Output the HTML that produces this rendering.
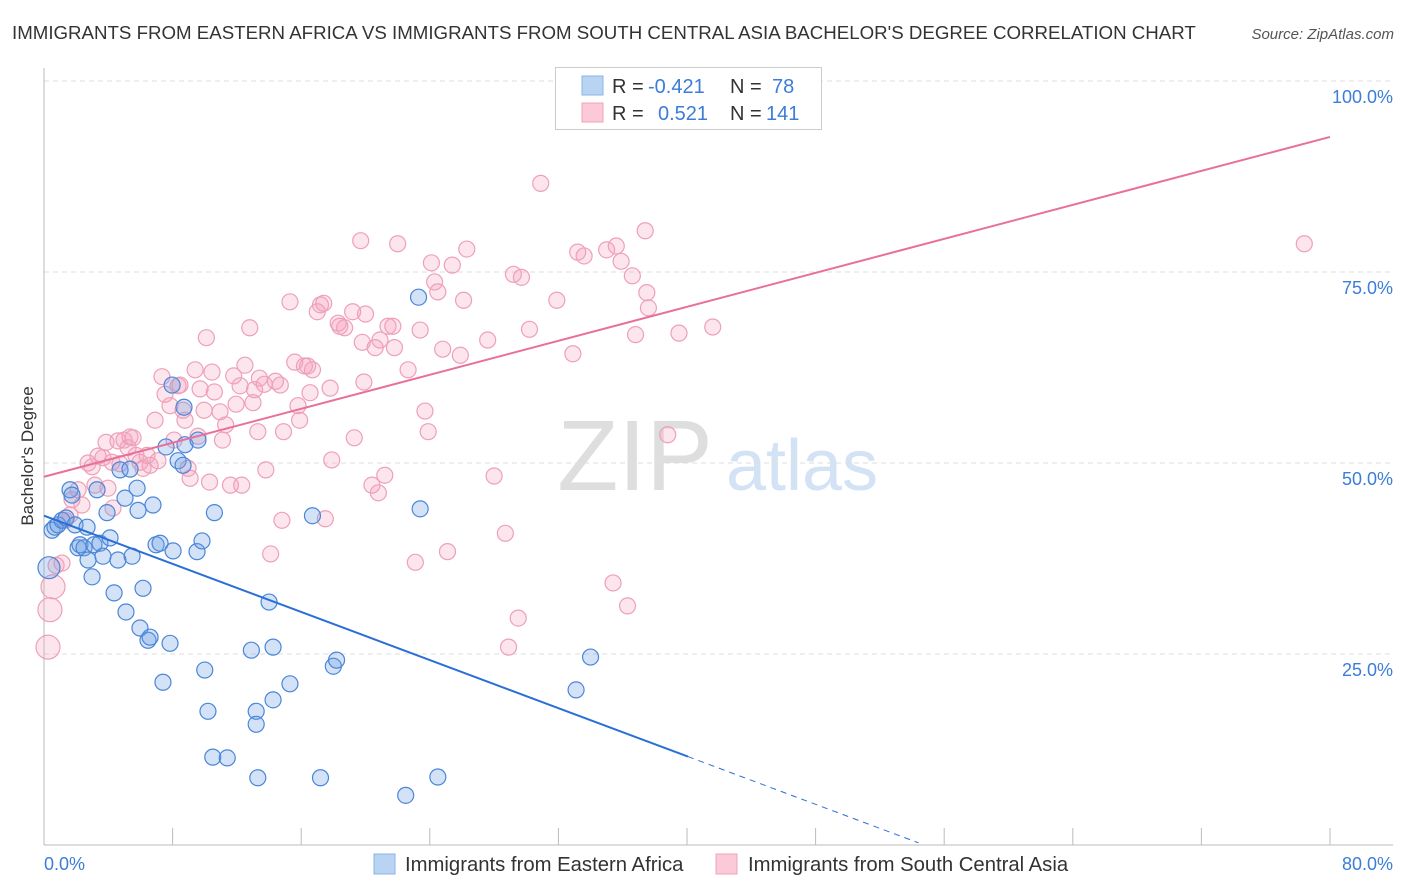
<!DOCTYPE html>
<html><head><meta charset="utf-8">
<style>
body{margin:0;background:#fff;font-family:"Liberation Sans",sans-serif;}
#wrap{position:relative;width:1406px;height:892px;overflow:hidden;}
svg text{font-family:"Liberation Sans",sans-serif;}
</style></head>
<body>
<div id="wrap">
<svg id="chart" width="1406" height="892">
  <text x="12" y="39" font-size="18.7" fill="#333">IMMIGRANTS FROM EASTERN AFRICA VS IMMIGRANTS FROM SOUTH CENTRAL ASIA BACHELOR'S DEGREE CORRELATION CHART</text>
  <text x="1394" y="39" font-size="15" fill="#555" font-style="italic" text-anchor="end">Source: ZipAtlas.com</text>
  <text x="33" y="456" font-size="17" fill="#333" text-anchor="middle" transform="rotate(-90 33 456)">Bachelor's Degree</text>
  <g>
    <text x="635" y="490" font-size="100" fill="#dedede" font-family="Liberation Serif" text-anchor="middle">ZIP</text>
    <text x="802" y="490" font-size="72" fill="#d3e2f4" text-anchor="middle">atlas</text>
  </g>
  <g id="grid"></g>
  <g id="axes"></g>
  <g id="pts"></g>
  <g id="lines"></g>
  <g>
    <rect x="555.5" y="67.5" width="266" height="62" fill="#fff" stroke="#ccc"/>
    <rect x="582" y="76" width="21" height="19" fill="#b9d3f3" stroke="#8ab3e6"/>
    <rect x="582" y="103" width="21" height="19" fill="#fbc9d8" stroke="#f0a3bb"/>
    <text x="612" y="93" font-size="20" fill="#333">R = </text>
    <text x="648" y="93" font-size="20" fill="#3b7dd8">-0.421</text>
    <text x="730" y="93" font-size="20" fill="#333">N = </text>
    <text x="772" y="93" font-size="20" fill="#3b7dd8">78</text>
    <text x="612" y="120" font-size="20" fill="#333">R = </text>
    <text x="658" y="120" font-size="20" fill="#3b7dd8">0.521</text>
    <text x="730" y="120" font-size="20" fill="#333">N = </text>
    <text x="766" y="120" font-size="20" fill="#3b7dd8">141</text>
  </g>
  <g>
    <rect x="374" y="854" width="21" height="20" fill="#b9d3f3" stroke="#8ab3e6"/>
    <text x="405" y="871" font-size="20.3" fill="#333">Immigrants from Eastern Africa</text>
    <rect x="716" y="854" width="21" height="20" fill="#fbc9d8" stroke="#f0a3bb"/>
    <text x="748" y="871" font-size="20.3" fill="#333">Immigrants from South Central Asia</text>
  </g>
</svg>
</div>
<script>
const blueX=[0.31,0.5,0.68,0.87,1.12,1.37,1.62,1.74,1.93,2.12,2.24,2.49,2.68,2.74,2.99,3.11,3.3,3.48,3.67,3.92,4.11,4.36,4.6,4.73,5.04,5.1,5.35,5.48,5.79,5.85,5.97,6.16,6.47,6.6,6.78,6.97,7.22,7.4,7.59,7.84,7.97,8.03,8.34,8.65,8.71,8.77,9.52,9.58,9.83,10.0,10.2,10.5,10.6,11.4,12.9,13.2,13.2,13.3,14.0,14.25,14.25,15.3,16.7,17.2,18.0,18.2,22.5,23.3,23.4,24.5,33.1,34.0];
const blueY=[36.3,41.2,41.6,41.9,42.5,42.8,46.5,45.8,41.9,38.9,39.3,38.9,41.6,37.3,35.1,39.3,46.5,39.5,37.8,43.5,40.2,33.0,37.3,49.1,45.4,30.5,49.2,37.8,46.7,43.8,28.4,33.6,26.8,27.2,44.5,39.3,39.5,21.3,52.1,26.4,60.2,38.5,50.3,49.7,57.3,52.4,38.4,53.0,39.8,22.9,17.5,11.5,43.5,11.4,25.5,17.5,15.8,8.8,31.8,19.0,25.9,21.1,43.1,8.8,23.4,24.2,6.5,71.7,44.0,8.9,20.3,24.6];
const pinkX=[0.25,0.37,0.56,0.75,1.12,1.31,1.62,1.74,2.12,2.36,2.74,2.99,3.17,3.36,3.67,3.86,3.98,4.23,4.29,4.6,4.73,4.98,5.23,5.35,5.54,5.72,5.97,6.16,6.41,6.6,6.91,7.09,7.34,7.53,7.84,8.09,8.34,8.46,8.65,8.77,8.96,9.09,9.4,9.58,9.71,9.96,10.1,10.3,10.45,10.6,10.95,11.1,11.3,11.6,11.8,11.95,12.2,12.3,12.5,12.8,13.0,13.1,13.3,13.4,13.7,13.8,14.1,14.4,14.7,14.8,14.9,15.3,15.6,15.8,15.9,16.2,16.4,16.55,16.7,17.0,17.2,17.4,17.5,17.8,17.9,18.3,18.4,18.7,19.2,19.3,19.7,19.8,19.9,20.0,20.4,20.6,20.8,20.9,21.2,21.4,21.7,21.8,22.0,22.65,23.1,23.4,23.7,23.9,24.1,24.3,24.5,24.8,25.1,25.4,25.9,26.1,26.3,27.6,28.0,28.7,28.9,29.2,29.5,29.7,30.2,30.9,31.9,32.9,33.2,33.6,35.0,35.4,35.6,35.9,36.3,36.6,36.8,37.4,37.5,37.6,38.8,39.5,41.6,78.4];
const pinkY=[25.9,30.8,33.8,36.6,36.9,42.5,43.2,45.2,46.5,44.5,50.0,49.5,47.1,50.9,50.7,52.7,46.7,50.1,44.1,52.9,49.9,53.0,52.0,53.4,53.3,51.0,50.1,49.3,51.0,49.7,55.6,50.3,61.3,59.0,57.5,53.0,60.1,60.2,56.9,55.6,49.3,48.0,62.2,53.5,59.7,56.9,66.4,47.5,61.9,59.3,56.7,53.0,55.0,47.1,61.4,57.7,60.1,47.1,62.8,67.7,57.9,59.6,54.1,61.1,60.3,49.1,38.1,60.7,60.2,42.5,54.1,71.1,63.2,57.5,55.6,62.7,62.7,59.2,62.2,69.8,70.7,70.9,42.7,59.8,50.4,68.3,67.9,67.7,69.8,53.3,79.1,65.8,60.6,69.5,47.1,65.1,46.1,66.1,48.4,67.9,67.9,65.1,78.7,62.2,37.0,67.4,56.8,54.1,76.2,73.7,72.4,64.9,38.4,75.9,64.1,71.3,78.0,66.1,48.3,40.8,25.9,74.7,29.7,74.3,67.5,86.6,71.3,64.3,77.6,77.1,77.9,34.3,78.4,76.4,31.3,74.5,66.8,80.4,72.3,70.3,53.7,67.0,67.8,78.7];
const yTicks=[25,50,75,100];
const yTickLabels=["25.0%","50.0%","75.0%","100.0%"];
const xTicks=[0,8,16,24,32,40,48,56,64,72,80];
const xEndLabels=["0.0%","80.0%"];
const blueTrend=[43.1,-0.787,0,40.06,54.4];
const pinkTrend=[48.2,0.556,0,80];

const NS="http://www.w3.org/2000/svg";
const X=v=>44+v*16.075, Y=v=>845-v*7.64;
function mk(tag,attrs,parent){const e=document.createElementNS(NS,tag);for(const k in attrs)e.setAttribute(k,attrs[k]);parent.appendChild(e);return e;}
const grid=document.getElementById('grid'),axes=document.getElementById('axes'),pts=document.getElementById('pts'),lines=document.getElementById('lines');
yTicks.forEach((t,i)=>{
  const l=mk('line',{x1:44,x2:1393,y1:Y(t),y2:Y(t),stroke:'#ddd','stroke-dasharray':'5,4'},grid);
  
  
  const tx=mk('text',{x:1393,y:Y(t)+22,'font-size':18,fill:'#3b7dd8','text-anchor':'end'},axes);
  tx.textContent=yTickLabels[i];
  
  
});
const ax=mk('line',{x1:44,x2:44,y1:68,y2:845,stroke:'#bbb'},axes);


const bx=mk('line',{x1:44,x2:1393,y1:845,y2:845,stroke:'#bbb'},axes);


xTicks.forEach(t=>{
  const l=mk('line',{x1:X(t),x2:X(t),y1:828,y2:845,stroke:'#bbb'},axes);
  
  
});
const xl0=mk('text',{x:44,y:870,'font-size':18,fill:'#3b7dd8'},axes);xl0.textContent=xEndLabels[0];


const xl1=mk('text',{x:1393,y:870,'font-size':18,fill:'#3b7dd8','text-anchor':'end'},axes);xl1.textContent=xEndLabels[1];


pinkX.forEach((x,i)=>{
  const c=mk('circle',{cx:X(x),cy:Y(pinkY[i]),r:(x<0.6?12:8),fill:'rgba(245,160,190,0.28)',stroke:'#eea0b8','stroke-width':1.2},pts);
  
  
});
blueX.forEach((x,i)=>{
  const c=mk('circle',{cx:X(x),cy:Y(blueY[i]),r:(x<0.4?11:8),fill:'rgba(110,160,230,0.3)',stroke:'#4a86d8','stroke-width':1.2},pts);
  
  
});
const [bi,bs,b0,b1,b2]=blueTrend;
const bl=mk('line',{x1:X(b0),y1:Y(bi+bs*b0),x2:X(b1),y2:Y(bi+bs*b1),stroke:'#2a6fd6','stroke-width':2},lines);


const bd=mk('line',{x1:X(b1),y1:Y(bi+bs*b1),x2:X(b2),y2:Y(bi+bs*b2),stroke:'#2a6fd6','stroke-width':1,'stroke-dasharray':'6,5'},lines);


const [pi,ps,p0,p1]=pinkTrend;
const pl=mk('line',{x1:X(p0),y1:Y(pi+ps*p0),x2:X(p1),y2:Y(pi+ps*p1),stroke:'#e8709a','stroke-width':2},lines);


</script>
</body></html>
